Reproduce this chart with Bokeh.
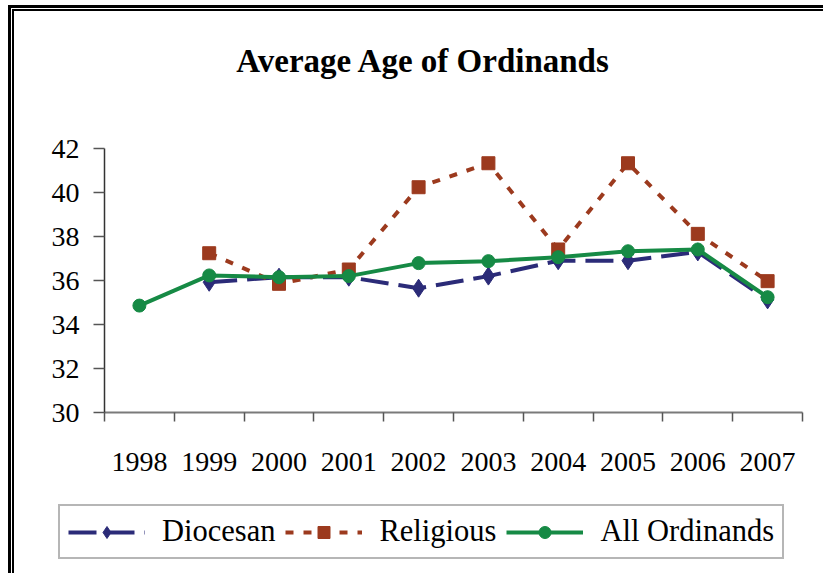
from bokeh.plotting import figure
from bokeh.models import (Range1d, FixedTicker, Label, InlineStyleSheet, Legend,
                          LegendItem, LinearAxis)
from bokeh.embed import file_html
from bokeh.resources import INLINE

title_text = "Average Age of Ordinands"
years_all = [1998, 1999, 2000, 2001, 2002, 2003, 2004, 2005, 2006, 2007]
years_sub = [1999, 2000, 2001, 2002, 2003, 2004, 2005, 2006, 2007]
diocesan = [35.92, 36.15, 36.15, 35.65, 36.2, 36.9, 36.9, 37.3, 35.12]
religious = [37.24, 35.85, 36.5, 40.24, 41.33, 37.41, 41.33, 38.12, 35.97]
all_ord = [34.86, 36.23, 36.15, 36.2, 36.79, 36.88, 37.06, 37.33, 37.41, 35.24]
y_ticks = [30, 32, 34, 36, 38, 40, 42]
series_names = ["Diocesan", "Religious", "All Ordinands"]

FONT = "Liberation Serif"
NAVY = "#2B2B78"
BROWN = "#9C3A1E"
GREEN = "#168A45"

W, H = 823, 573
# plot area in pixels: x 104..802, y 148..412 (the frame spans the whole canvas)
X0, X1 = years_all[0] - 0.5, years_all[-1] + 0.5
Y0, Y1 = y_ticks[0], y_ticks[-1]
ppx = (802 - 104) / (X1 - X0)
ppy = (412 - 148) / (Y1 - Y0)
x_range = Range1d(X0 - 104 / ppx, X1 + (W - 802) / ppx)
y_range = Range1d(Y0 - (H - 412) / ppy, Y1 + 148 / ppy)

p = figure(width=W, height=H, output_backend="svg", toolbar_location=None,
           x_range=x_range, y_range=y_range, x_axis_type=None, y_axis_type=None,
           min_border=0, min_border_left=0, min_border_right=0,
           min_border_top=0, min_border_bottom=0)
p.outline_line_color = None
p.background_fill_color = "white"
p.border_fill_color = "white"

# axes drawn at fixed data locations
xa = LinearAxis(fixed_location=Y0, bounds=(X0, X1))
xa.ticker = FixedTicker(ticks=years_all,
                        minor_ticks=[y - 0.5 for y in years_all] + [years_all[-1] + 0.5])
xa.major_tick_out = 0
xa.major_tick_in = 0
xa.minor_tick_out = 9
xa.minor_tick_in = 0
xa.minor_tick_line_color = "#555555"
xa.minor_tick_line_width = 1.5
xa.axis_line_color = "#7a7a7a"
xa.axis_line_width = 2
xa.major_label_text_font = FONT
xa.major_label_text_font_size = "28px"
xa.major_label_text_color = "black"
xa.major_label_standoff = 31
p.add_layout(xa, "below")

ya = LinearAxis(fixed_location=X0, bounds=(Y0, Y1))
ya.ticker = FixedTicker(ticks=y_ticks, minor_ticks=[])
ya.major_tick_out = 11
ya.major_tick_in = 0
ya.major_tick_line_color = "#555555"
ya.major_tick_line_width = 1.5
ya.axis_line_color = "#333333"
ya.axis_line_width = 1.5
ya.major_label_text_font = FONT
ya.major_label_text_font_size = "28px"
ya.major_label_text_color = "black"
ya.major_label_standoff = 14
p.add_layout(ya, "left")

p.xgrid.grid_line_color = None
p.ygrid.grid_line_color = "#555555"
p.ygrid.grid_line_width = 1.3
p.ygrid.ticker = FixedTicker(ticks=y_ticks)
p.ygrid.bounds = (X0, X1)

# series
d_line = p.line(years_sub, diocesan, line_color=NAVY, line_width=4, line_dash="28 10")
d_pts = p.scatter(years_sub, diocesan, marker="diamond", size=18, fill_color=NAVY,
                  line_color=NAVY)
r_line = p.line(years_sub, religious, line_color=BROWN, line_width=4, line_dash="8 10")
r_pts = p.scatter(years_sub, religious, marker="square", size=13, fill_color=BROWN,
                  line_color=BROWN)
a_line = p.line(years_all, all_ord, line_color=GREEN, line_width=4)
a_pts = p.scatter(years_all, all_ord, marker="circle", size=13, fill_color=GREEN,
                  line_color=GREEN)

lg = Legend(items=[LegendItem(label=series_names[0], renderers=[d_line, d_pts]),
                   LegendItem(label=series_names[1], renderers=[r_line, r_pts]),
                   LegendItem(label=series_names[2], renderers=[a_line, a_pts])])
lg.orientation = "horizontal"
lg.glyph_width = 77
lg.glyph_height = 30
lg.label_standoff = 17
lg.spacing = 10
lg.padding = 8
lg.margin = 0
lg.label_text_font = FONT
lg.label_text_font_size = "30.5px"
lg.label_text_color = "black"
lg.border_line_color = "#6e6e6e"
lg.border_line_width = 2
lg.background_fill_alpha = 1
lg.location = (58, H - 559)
p.add_layout(lg, "center")

p.add_layout(Label(x=423, y=H - 60, x_units="screen", y_units="screen",
                   text=title_text, text_align="center", text_baseline="middle",
                   text_font=FONT, text_font_size="33px", text_font_style="bold",
                   text_color="black"))

# double frame on left and top (page decoration)
p.stylesheets = [InlineStyleSheet(css="""
:host { position: relative; }
:host::before { content: ''; position: absolute; left: 8px; top: 5px; right: 0; bottom: 0;
  border-left: 3px solid #000; border-top: 3px solid #000; pointer-events: none; z-index: 10; }
:host::after { content: ''; position: absolute; left: 12px; top: 9px; right: 0; bottom: 0;
  border-left: 2px solid #000; border-top: 2px solid #000; pointer-events: none; z-index: 10; }
""")]

open("out.html", "w").write(file_html(p, INLINE))
